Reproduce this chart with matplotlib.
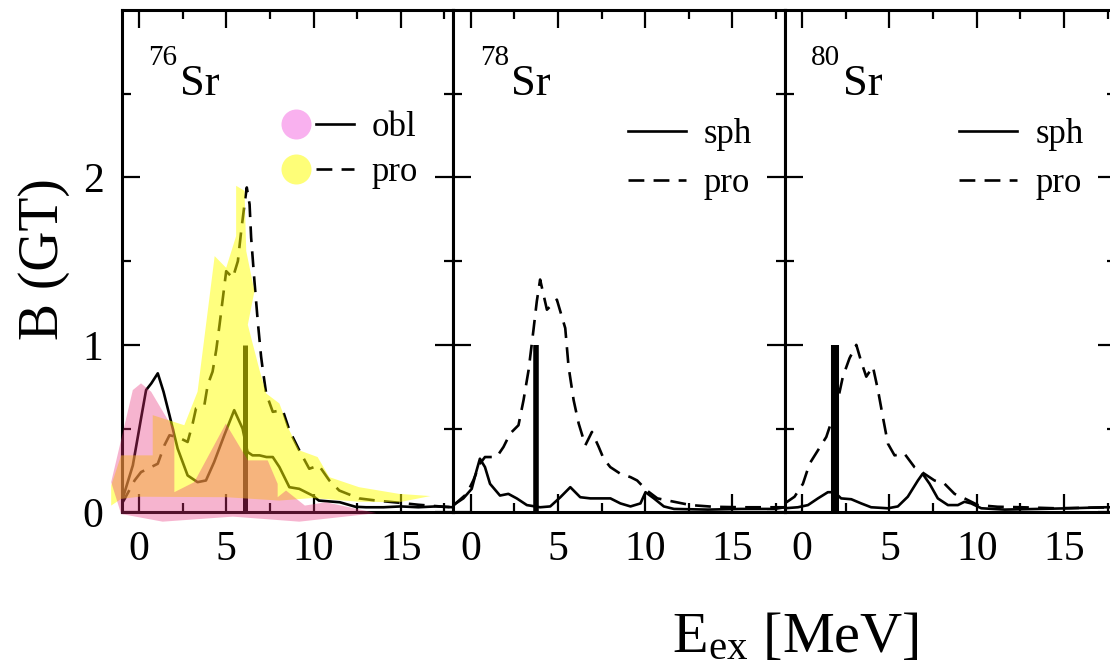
import matplotlib
matplotlib.use("Agg")
import matplotlib.pyplot as plt
from matplotlib.lines import Line2D
from matplotlib.legend_handler import HandlerTuple
from matplotlib.ticker import MultipleLocator

# ---- GT strength distributions B(GT) vs excitation energy ----
mass_numbers = ["76", "78", "80"]
legend_labels = [("obl", "pro"), ("sph", "pro"), ("sph", "pro")]

# 76Sr, oblate (solid) and prolate (dashed)
sr76_solid_E = [-1.0, -0.83, -0.36, 0.11, 0.4, 0.7, 1.07, 1.4, 1.74, 2.21, 2.78, 3.35, 3.83, 4.3,
                4.88, 5.45, 5.93, 6.21, 6.5, 6.9, 7.3, 7.66, 8.04, 8.61, 9.18, 9.94, 10.3, 11.5,
                12.4, 13.0, 14.0, 15.0, 16.0, 17.0, 18.0]
sr76_solid_B = [0.06, 0.12, 0.28, 0.56, 0.73, 0.77, 0.83, 0.72, 0.58, 0.38, 0.22, 0.18, 0.19, 0.30,
                0.46, 0.61, 0.50, 0.36, 0.34, 0.34, 0.33, 0.33, 0.27, 0.15, 0.14, 0.10, 0.07, 0.06,
                0.033, 0.03, 0.03, 0.035, 0.03, 0.035, 0.03]
sr76_dash_E = [-1.0, -0.83, -0.26, 0.11, 0.69, 1.07, 1.45, 1.74, 2.2, 2.78, 3.07, 3.26, 3.74, 3.93,
               4.21, 4.42, 4.61, 4.8, 4.99, 5.37, 5.66, 5.85, 6.04, 6.17, 6.33, 6.42, 6.61, 6.8,
               6.99, 7.09, 7.28, 7.66, 8.23, 8.61, 9.18, 9.75, 10.3, 10.9, 11.47, 12.6, 13.6,
               14.9, 16.0, 17.5, 18.0]
sr76_dash_B = [0.05, 0.08, 0.19, 0.24, 0.27, 0.29, 0.40, 0.46, 0.45, 0.42, 0.53, 0.62, 0.64, 0.76,
               0.84, 0.97, 1.12, 1.28, 1.44, 1.40, 1.50, 1.68, 1.84, 1.94, 1.84, 1.64, 1.38, 1.14,
               0.93, 0.85, 0.71, 0.60, 0.61, 0.49, 0.37, 0.26, 0.28, 0.19, 0.13, 0.083, 0.07,
               0.057, 0.045, 0.033, 0.03]

# 78Sr, spherical (solid) and prolate (dashed)
sr78_solid_E = [-1.0, -0.42, 0.06, 0.34, 0.53, 0.82, 1.11, 1.68, 2.16, 2.64, 3.22, 3.98, 4.56, 5.14,
                5.71, 6.28, 6.86, 7.43, 8.01, 8.58, 9.16, 9.73, 10.02, 10.5, 11.07, 11.65, 13.6,
                15.5, 17.4, 18.0]
sr78_solid_B = [0.043, 0.083, 0.14, 0.25, 0.32, 0.27, 0.17, 0.10, 0.11, 0.083, 0.043, 0.03, 0.035,
                0.09, 0.15, 0.09, 0.083, 0.083, 0.083, 0.053, 0.035, 0.053, 0.12, 0.083, 0.035,
                0.02, 0.016, 0.02, 0.02, 0.03]
sr78_dash_E = [-1.0, -0.23, 0.15, 0.53, 0.82, 1.49, 1.88, 2.26, 2.74, 3.03, 3.32, 3.6, 3.79, 3.98,
               4.37, 4.94, 5.42, 5.61, 5.9, 6.19, 6.57, 6.95, 7.34, 7.62, 8.0, 8.58, 9.16, 9.54,
               10.1, 10.7, 11.65, 12.6, 13.9, 15.5, 18.0]
sr78_dash_B = [0.04, 0.11, 0.19, 0.29, 0.33, 0.33, 0.39, 0.47, 0.52, 0.67, 0.85, 1.09, 1.26, 1.39,
               1.21, 1.27, 1.10, 0.87, 0.67, 0.53, 0.40, 0.48, 0.39, 0.32, 0.27, 0.23, 0.21, 0.19,
               0.13, 0.083, 0.063, 0.043, 0.033, 0.03, 0.03]

# 80Sr, spherical (solid) and prolate (dashed)
sr80_solid_E = [-1.0, -0.25, 0.33, 0.9, 1.47, 1.85, 2.23, 2.81, 3.38, 3.95, 4.91, 5.48, 6.05, 6.63,
                6.9, 7.3, 7.77, 8.35, 8.92, 9.3, 9.68, 10.26, 11.6, 13.5, 15.4, 17.3, 18.0]
sr80_solid_B = [0.024, 0.03, 0.043, 0.083, 0.12, 0.12, 0.083, 0.078, 0.053, 0.03, 0.024, 0.035,
                0.093, 0.19, 0.23, 0.17, 0.083, 0.043, 0.043, 0.063, 0.053, 0.024, 0.016, 0.02,
                0.024, 0.03, 0.03]
sr80_dash_E = [-1.0, -0.44, 0.04, 0.42, 0.9, 1.38, 1.7, 2.04, 2.33, 2.71, 3.1, 3.38, 3.67, 4.05,
               4.34, 4.62, 4.91, 5.29, 5.86, 6.43, 7.0, 7.58, 8.16, 8.73, 9.3, 10.07, 11.2, 12.6,
               14.5, 18.0]
sr80_dash_B = [0.053, 0.093, 0.17, 0.29, 0.37, 0.45, 0.55, 0.67, 0.81, 0.92, 1.0, 0.90, 0.81, 0.87,
               0.73, 0.57, 0.41, 0.34, 0.35, 0.27, 0.23, 0.19, 0.17, 0.11, 0.083, 0.043, 0.033,
               0.03, 0.024, 0.03]

# experimental strength (vertical bars)
exp_E = [6.08, 3.73, 1.90]
exp_B = [1.0, 1.0, 1.0]

# 76Sr uncertainty bands (polygon outlines)
pro_band_E = [-1.6, -1.03, 0.78, 0.78, 2.59, 3.35, 4.33, 4.99, 5.56, 5.56, 6.04, 6.14, 6.61, 6.23,
              6.9, 7.28, 8.04, 8.61, 9.18, 10.23, 10.9, 12.6, 14.9, 16.7, 14.9, 12.6, 9.94, 8.04,
              5.0, 0.0, -1.03, -1.6]
pro_band_B = [0.16, 0.34, 0.34, 0.58, 0.52, 0.72, 1.53, 1.46, 1.65, 1.95, 1.92, 1.56, 1.32, 1.12,
              0.85, 0.71, 0.65, 0.49, 0.37, 0.33, 0.21, 0.15, 0.11, 0.097, 0.06, 0.063, 0.085,
              0.07, 0.09, 0.093, 0.08, 0.04]
obl_band_E = [-1.6, -0.36, 0.11, 0.69, 1.26, 1.6, 2.02, 2.02, 3.16, 4.97, 5.83, 6.23, 7.37, 7.94,
              7.94, 8.42, 9.5, 10.7, 13.6, 9.18, 5.37, 1.35, -1.03, -1.6]
obl_band_B = [0.18, 0.73, 0.77, 0.72, 0.62, 0.56, 0.50, 0.12, 0.18, 0.53, 0.38, 0.31, 0.31, 0.17,
              0.09, 0.13, 0.04, 0.06, -0.005, -0.056, -0.026, -0.056, -0.01, 0.18]

solid_E = [sr76_solid_E, sr78_solid_E, sr80_solid_E]
solid_B = [sr76_solid_B, sr78_solid_B, sr80_solid_B]
dash_E = [sr76_dash_E, sr78_dash_E, sr80_dash_E]
dash_B = [sr76_dash_B, sr78_dash_B, sr80_dash_B]

plt.rcParams["font.family"] = "Liberation Serif"
plt.rcParams["mathtext.fontset"] = "custom"
plt.rcParams["mathtext.rm"] = "Liberation Serif"
plt.rcParams["mathtext.it"] = "Liberation Serif:italic"

PINK = "#e8307a"
YELLOW = "#ffff00"
LW = 1.9
DASHES = (6, 3.5)
bar_lw = [3.6, 4.0, 5.8]

fig = plt.figure(figsize=(11.1, 6.66), dpi=100)
left, bottom, width, height = 0.1096, 0.2308, 0.2987, 0.7542
axes = [fig.add_axes([left + i * width, bottom, width, height]) for i in range(3)]

for i, ax in enumerate(axes):
    ax.plot(solid_E[i], solid_B[i], color="k", lw=LW, zorder=2)
    ax.plot(dash_E[i], dash_B[i], color="k", lw=LW, dashes=DASHES, zorder=2)
    ax.vlines(exp_E[i], 0, exp_B[i], color="k", lw=bar_lw[i], zorder=2)

    ax.set_xlim(-1, 18)
    ax.set_ylim(0, 3)
    ax.xaxis.set_major_locator(MultipleLocator(5))
    ax.xaxis.set_minor_locator(MultipleLocator(2.5))
    ax.set_yticks([0, 1, 2])
    ax.set_yticks([0.5, 1.5, 2.5], minor=True)
    ax.tick_params(which="both", direction="in", top=True, right=True, width=1.6,
                   labelsize=30, pad=13)
    ax.tick_params(which="major", length=13)
    ax.tick_params(which="minor", length=6.5)
    if i > 0:
        ax.tick_params(labelleft=False)
    for sp in ax.spines.values():
        sp.set_linewidth(2.2)

    # nucleus label
    ax.text(0.08, 0.89, mass_numbers[i], transform=ax.transAxes, fontsize=21,
            va="baseline", ha="left")
    ax.text(0.175, 0.831, "Sr", transform=ax.transAxes, fontsize=32,
            va="baseline", ha="left")

# bands on the 76Sr panel, drawn over the curves
ax0 = axes[0]
ax0.fill(pro_band_E, pro_band_B, color=YELLOW, alpha=0.5, lw=0, zorder=3, clip_on=False)
ax0.fill(obl_band_E, obl_band_B, color=PINK, alpha=0.36, lw=0, zorder=3.1, clip_on=False)

# legends
hmap = {tuple: HandlerTuple(ndivide=None, pad=0)}
h_obl = (Line2D([], [], ls="none", marker="o", ms=21.6, mfc="#f9b1ef", mec="none"),
         Line2D([], [], color="k", lw=LW))
h_pro = (Line2D([], [], ls="none", marker="o", ms=21.6, mfc="#fefe78", mec="none"),
         Line2D([], [], color="k", lw=LW, dashes=DASHES))
ax0.legend([h_obl, h_pro], list(legend_labels[0]), handler_map=hmap, loc="center left",
           bbox_to_anchor=(0.47, 0.721), frameon=False, fontsize=25, handlelength=2.19,
           handletextpad=0.52, labelspacing=0.35, borderpad=0, borderaxespad=0)

for i in (1, 2):
    hs = [Line2D([], [], color="k", lw=LW), Line2D([], [], color="k", lw=LW, dashes=DASHES)]
    axes[i].legend(hs, list(legend_labels[i]), loc="center left",
                   bbox_to_anchor=(0.526, 0.703), frameon=False, fontsize=25,
                   handlelength=1.67, handletextpad=0.52, labelspacing=0.45,
                   borderpad=0, borderaxespad=0)

fig.text(44 / 1110, 1 - 259 / 666, "B (GT)", rotation=90, fontsize=40,
         ha="center", va="center")
fig.text(672 / 1110, 14 / 666, r"E$_{\mathrm{ex}}$ [MeV]", fontsize=42,
         ha="left", va="baseline")

fig.savefig("out.png", dpi=100)
